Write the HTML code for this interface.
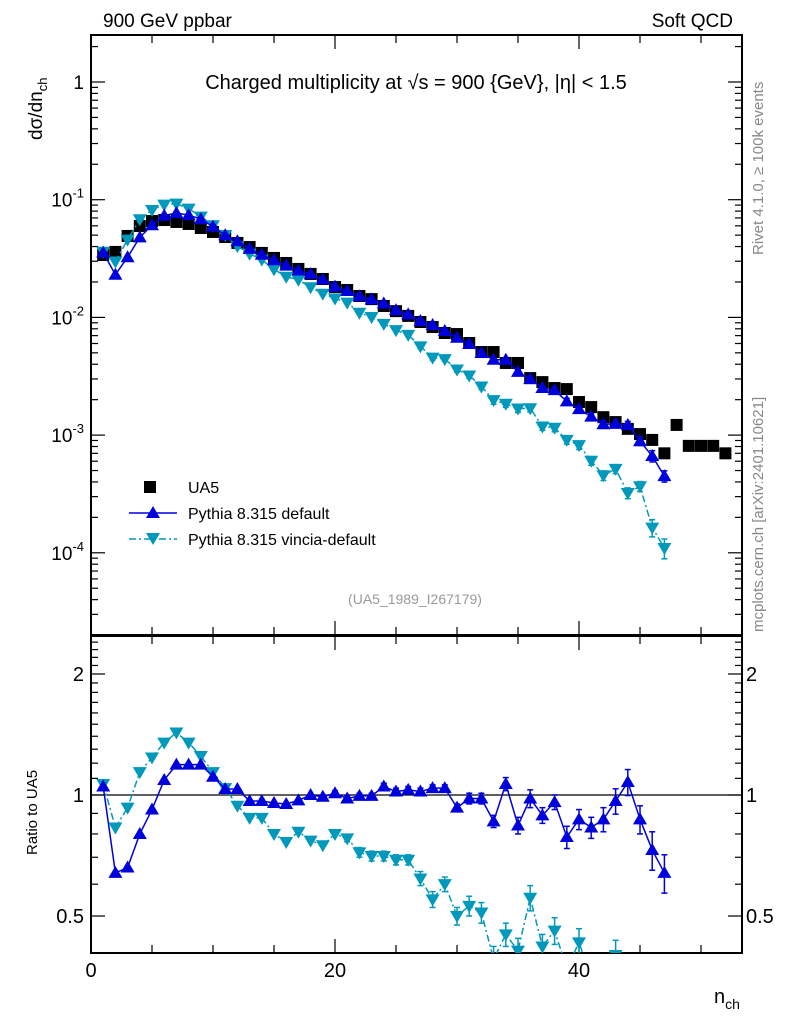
<!DOCTYPE html>
<html><head><meta charset="utf-8">
<style>
html,body{margin:0;padding:0;background:#fff;overflow:hidden;width:786px;height:1024px;}
svg{display:block;font-family:"Liberation Sans",sans-serif;}
</style></head>
<body>
<svg id="chart" width="786" height="1024" viewBox="0 0 786 1024" xmlns="http://www.w3.org/2000/svg">
<defs>
<clipPath id="clipMain"><rect x="91" y="35" width="651" height="600"/></clipPath>
<clipPath id="clipRatio"><rect x="91" y="636" width="651" height="317"/></clipPath>
</defs>
<text x="103" y="27" font-size="19">900 GeV ppbar</text>
<text x="733" y="27" font-size="19" text-anchor="end">Soft QCD</text>
<text x="416" y="89" font-size="20" text-anchor="middle">Charged multiplicity at √s = 900 {GeV}, |η| &lt; 1.5</text>
<text transform="translate(42,140) rotate(-90)" font-size="19">dσ/dn<tspan font-size="13" dy="5">ch</tspan></text>
<text transform="translate(37,855) rotate(-90)" font-size="15">Ratio to UA5</text>
<text x="714" y="1003" font-size="20">n<tspan font-size="14" dy="6">ch</tspan></text>
<text transform="translate(763,255) rotate(-90)" font-size="15" fill="#888">Rivet 4.1.0, ≥ 100k events</text>
<text transform="translate(763,632) rotate(-90)" font-size="15" fill="#888">mcplots.cern.ch [arXiv:2401.10621]</text>
<text x="415" y="604" font-size="14" fill="#999" text-anchor="middle">(UA5_1989_I267179)</text>
<g id="legend">
<rect x="144" y="481" width="12" height="12" fill="#000"/>
<text x="188" y="493" font-size="16">UA5</text>
<line x1="129" y1="513" x2="177" y2="513" stroke="#0000dd" stroke-width="1.5"/>
<polygon points="153,506 160,518 146,518" fill="#0000dd"/>
<text x="188" y="519" font-size="16">Pythia 8.315 default</text>
<line x1="129" y1="539" x2="177" y2="539" stroke="#0099bb" stroke-width="1.5" stroke-dasharray="7,3,2,3"/>
<polygon points="146,533 160,533 153,545" fill="#0099bb"/>
<text x="188" y="545" font-size="16">Pythia 8.315 vincia-default</text>
</g>
<g id="axes"></g>
<g id="marks"></g>
</svg>
<script>
const nValues = [1,2,3,4,5,6,7,8,9,10,11,12,13,14,15,16,17,18,19,20,21,22,23,24,25,26,27,28,29,30,31,32,33,34,35,36,37,38,39,40,41,42,43,44,45,46,47,48,49,50,51,52];
const ua5Values = [0.0339,0.0360,0.0492,0.0598,0.0659,0.0672,0.0647,0.0622,0.0575,0.0532,0.0482,0.0429,0.0396,0.0353,0.0320,0.0290,0.0258,0.0234,0.0212,0.0181,0.0171,0.0152,0.0143,0.0125,0.0113,0.0103,0.00914,0.00828,0.00737,0.00722,0.00606,0.00508,0.00508,0.00410,0.00410,0.00305,0.00282,0.00251,0.00246,0.00191,0.00173,0.00142,0.00129,0.00113,0.00102,0.00091,0.00070,0.00122,0.00081,0.00081,0.00081,0.00070];
const defaultRatio = [1.05,0.64,0.66,0.80,0.92,1.09,1.19,1.19,1.19,1.11,1.035,1.035,0.966,0.966,0.955,0.95,0.97,1.0,0.99,1.01,0.98,0.995,0.995,1.05,1.02,1.03,1.02,1.04,1.04,0.93,0.98,0.98,0.86,1.065,0.84,0.98,0.89,0.96,0.786,0.87,0.83,0.87,0.966,1.077,0.87,0.73,0.64];
const defaultErr = [0.01,0.01,0.01,0.01,0.01,0.01,0.01,0.01,0.01,0.01,0.01,0.01,0.01,0.01,0.01,0.01,0.01,0.01,0.01,0.015,0.015,0.015,0.015,0.02,0.02,0.02,0.02,0.02,0.02,0.02,0.03,0.03,0.03,0.04,0.04,0.05,0.04,0.04,0.05,0.05,0.05,0.06,0.07,0.08,0.07,0.08,0.07];
const vinciaRatio = [1.065,0.83,0.93,1.14,1.24,1.35,1.43,1.35,1.25,1.14,1.04,0.94,0.877,0.877,0.80,0.764,0.81,0.77,0.75,0.80,0.78,0.72,0.705,0.705,0.69,0.69,0.62,0.55,0.60,0.50,0.53,0.51,0.39,0.45,0.41,0.555,0.42,0.46,0.37,0.43,0.35,0.32,0.40,0.285,0.36,0.18,0.157];
const vinciaErr = [0.01,0.01,0.01,0.01,0.01,0.01,0.01,0.01,0.01,0.01,0.01,0.01,0.01,0.01,0.01,0.01,0.01,0.01,0.01,0.01,0.015,0.02,0.02,0.02,0.02,0.02,0.025,0.025,0.025,0.025,0.03,0.03,0.03,0.03,0.03,0.04,0.03,0.035,0.03,0.035,0.03,0.03,0.035,0.03,0.035,0.03,0.03];
const xTicksMajor = [0,20,40];
const yDecades = [1e-5,1e-4,1e-3,1e-2,1e-1,1];
const ratioLabels = [0.5,1,2];

const NS="http://www.w3.org/2000/svg";
const X0=91,X1=742,XMAX=53.36;
const MT=35,MB=635,RT=636,RB=953;
function xs(n){return X0+n*(X1-X0)/XMAX;}
function ys(v){return 82-Math.log10(v)*117.7;}
function yr(r){return 795-Math.log10(r)*402;}
function mk(tag,attrs,parent){const e=document.createElementNS(NS,tag);for(const k in attrs)e.setAttribute(k,attrs[k]);parent.appendChild(e);return e;}
const axes=document.getElementById('axes'), marks=document.getElementById('marks');

let f1=mk('rect',{x:X0,y:MT,width:X1-X0,height:MB-MT,fill:'none',stroke:'#000','stroke-width':2},axes);


let f2=mk('rect',{x:X0,y:RT,width:X1-X0,height:RB-RT,fill:'none',stroke:'#000','stroke-width':2},axes);



for(let t=0;t<=53;t+=5){
  const x=xs(t), big=(t%20===0)?14:8;
  for(const [top,bot] of [[MT,MB],[RT,RB]]){
    mk('line',{x1:x,y1:bot,x2:x,y2:bot-big,stroke:'#000','stroke-width':1.2},axes);
    mk('line',{x1:x,y1:top,x2:x,y2:top+big,stroke:'#000','stroke-width':1.2},axes);
  }
}
xTicksMajor.forEach(t=>{
  const tx=mk('text',{x:xs(t),y:977,'font-size':20,'text-anchor':'middle'},axes);
  tx.textContent=String(t);
  
  
});
const exps={1e-5:'-5',1e-4:'-4',1e-3:'-3',1e-2:'-2',1e-1:'-1'};
yDecades.forEach(d=>{
  for(let m=1;m<=9;m++){
    const v=d*m, y=ys(v);
    if(y<MT||y>MB)continue;
    const L=(m===1)?14:7;
    mk('line',{x1:X0,y1:y,x2:X0+L,y2:y,stroke:'#000','stroke-width':1.2},axes);
    mk('line',{x1:X1,y1:y,x2:X1-L,y2:y,stroke:'#000','stroke-width':1.2},axes);
  }
  const y=ys(d);
  if(y<MT||y>MB)return;
  const t=mk('text',{x:84,y:y+7,'font-size':19,'text-anchor':'end'},axes);
  
  
  if(d===1){t.textContent='1';}
  else{t.textContent='10';const s=mk('tspan',{'font-size':13,dy:-9},t);s.textContent=exps[d];}
});
for(let r=0.4;r<=2.55;r+=0.1){
  const rr=Math.round(r*10)/10, y=yr(rr);
  if(y<RT||y>RB)continue;
  const L=(rr===0.5||rr===1||rr===2)?14:7;
  mk('line',{x1:X0,y1:y,x2:X0+L,y2:y,stroke:'#000','stroke-width':1.2},axes);
  mk('line',{x1:X1,y1:y,x2:X1-L,y2:y,stroke:'#000','stroke-width':1.2},axes);
}
ratioLabels.forEach(r=>{
  const y=yr(r)+7;
  const a=mk('text',{x:84,y:y,'font-size':20,'text-anchor':'end'},axes);a.textContent=String(r);
  
  
  const b=mk('text',{x:746,y:y,'font-size':20},axes);b.textContent=String(r);
  
  
});
const ref=mk('line',{x1:X0,y1:yr(1),x2:X1,y2:yr(1),stroke:'#000','stroke-width':1.3},axes);



const gMain=mk('g',{'clip-path':'url(#clipMain)'},marks);
const gRatio=mk('g',{'clip-path':'url(#clipRatio)'},marks);

function tri(g,x,y,up,col,name){
  const s=7;
  const pts=up?`${x},${y-s} ${x+s},${y+5} ${x-s},${y+5}`:`${x-s},${y-5} ${x+s},${y-5} ${x},${y+s}`;
  const p=mk('polygon',{points:pts,fill:col},g);
  
  
}
function errbar(g,x,y1,y2,col){
  mk('line',{x1:x,y1:y1,x2:x,y2:y2,stroke:col,'stroke-width':1.5},g);
  mk('line',{x1:x-3,y1:y1,x2:x+3,y2:y1,stroke:col,'stroke-width':1.5},g);
  mk('line',{x1:x-3,y1:y2,x2:x+3,y2:y2,stroke:col,'stroke-width':1.5},g);
}
function series(ratio,err,col,up,dash,name){
  const mainPts=[],ratioPts=[];
  ratio.forEach((r,i)=>{
    const x=xs(nValues[i]), v=ua5Values[i]*r;
    mainPts.push(x+','+ys(v)); ratioPts.push(x+','+yr(r));
  });
  const attrs={fill:'none',stroke:col,'stroke-width':1.5};
  if(dash)attrs['stroke-dasharray']=dash;
  const l1=mk('polyline',Object.assign({points:mainPts.join(' ')},attrs),gMain);
  
  
  const l2=mk('polyline',Object.assign({points:ratioPts.join(' ')},attrs),gRatio);
  
  
  ratio.forEach((r,i)=>{
    const x=xs(nValues[i]), v=ua5Values[i]*r, e=err[i];
    const rel=e/r;
    if(rel>0.015) errbar(gMain,x,ys(v*(1+rel)),ys(v*Math.max(1-rel,0.05)),col);
    if(e>0.012) errbar(gRatio,x,yr(r+e),yr(r-e),col);
    tri(gMain,x,ys(v),up,col,name+'-point');
    tri(gRatio,x,yr(r),up,col,name+'-ratio-point');
  });
}
ua5Values.forEach((v,i)=>{
  const x=xs(nValues[i]);
  const r=mk('rect',{x:x-6,y:ys(v)-6,width:12,height:12,fill:'#000'},gMain);
  
  
});
series(vinciaRatio,vinciaErr,'#0099bb',false,'7,3,2,3','vincia');
series(defaultRatio,defaultErr,'#0000dd',true,null,'default');
</script>
</body></html>
